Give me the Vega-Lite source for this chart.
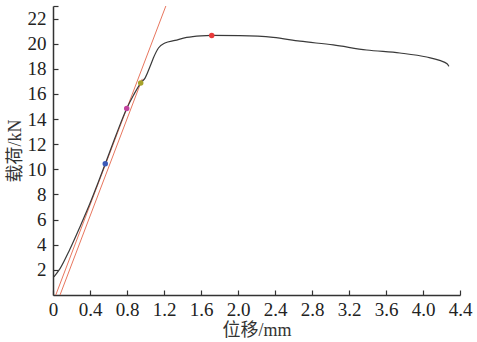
{
  "$schema": "https://vega.github.io/schema/vega-lite/v6.json",
  "width": 407,
  "height": 289,
  "autosize": "none",
  "padding": {"left": 53, "top": 6, "right": 17, "bottom": 47},
  "background": "white",
  "config": {
    "view": {"stroke": null},
    "font": "Liberation Serif, DejaVu Serif, serif",
    "axis": {
      "grid": false,
      "domainColor": "#333333",
      "domainWidth": 1.5,
      "tickColor": "#333333",
      "tickWidth": 1.2,
      "labelFont": "Liberation Serif, DejaVu Serif, serif",
      "labelFontSize": 19,
      "labelColor": "#222222",
      "labelFlush": false,
      "labelOverlap": false,
      "titleFont": "Liberation Serif, Noto Sans CJK SC, serif",
      "titleFontSize": 18,
      "titleFontWeight": "normal",
      "titleColor": "#333333"
    }
  },
  "datasets": {
    "curve": [
      {"x": 0.01, "y": 1.45}, {"x": 0.076, "y": 2.1}, {"x": 0.18, "y": 3.6}, {"x": 0.29, "y": 5.4},
      {"x": 0.40, "y": 7.3}, {"x": 0.48, "y": 8.8}, {"x": 0.565, "y": 10.44}, {"x": 0.68, "y": 12.7},
      {"x": 0.797, "y": 14.85}, {"x": 0.87, "y": 15.9}, {"x": 0.948, "y": 16.87}, {"x": 0.995, "y": 17.26},
      {"x": 1.05, "y": 18.2}, {"x": 1.085, "y": 18.86}, {"x": 1.14, "y": 19.66}, {"x": 1.21, "y": 20.05},
      {"x": 1.32, "y": 20.26}, {"x": 1.445, "y": 20.5}, {"x": 1.6, "y": 20.63}, {"x": 1.716, "y": 20.66},
      {"x": 2.02, "y": 20.64}, {"x": 2.38, "y": 20.5}, {"x": 2.67, "y": 20.2}, {"x": 3.03, "y": 19.9},
      {"x": 3.39, "y": 19.5}, {"x": 3.75, "y": 19.26}, {"x": 4.04, "y": 18.94}, {"x": 4.18, "y": 18.67},
      {"x": 4.26, "y": 18.4}, {"x": 4.28, "y": 18.2}
    ],
    "fits": [
      {"line": "a", "x": 0.03, "y": 0}, {"line": "a", "x": 1.22, "y": 23},
      {"line": "b", "x": 0.076, "y": 0}, {"line": "b", "x": 0.965, "y": 17.2}
    ],
    "dots": [
      {"name": "p1", "x": 0.565, "y": 10.44},
      {"name": "p2", "x": 0.797, "y": 14.85},
      {"name": "p3", "x": 0.948, "y": 16.87},
      {"name": "p4", "x": 1.716, "y": 20.66}
    ]
  },
  "encoding": {
    "x": {
      "field": "x", "type": "quantitative",
      "scale": {"domain": [0, 4.4], "nice": false, "zero": false},
      "axis": {
        "title": "位移/mm",
        "values": [0, 0.4, 0.8, 1.2, 1.6, 2.0, 2.4, 2.8, 3.2, 3.6, 4.0, 4.4],
        "labelExpr": "datum.value == 0 ? '0' : format(datum.value, '.1f')",
        "tickSize": -5,
        "labelPadding": 10,
        "titlePadding": 2
      }
    },
    "y": {
      "field": "y", "type": "quantitative",
      "scale": {"domain": [0, 23], "nice": false},
      "axis": {
        "title": "载荷/kN",
        "values": [2, 4, 6, 8, 10, 12, 14, 16, 18, 20, 22, 23],
        "labelExpr": "datum.value == 23 ? '' : datum.label",
        "tickSize": -5,
        "labelPadding": 12,
        "titlePadding": 3
      }
    }
  },
  "layer": [
    {
      "data": {"name": "fits"},
      "mark": {"type": "line", "color": "#e8765e", "strokeWidth": 1},
      "encoding": {"detail": {"field": "line"}}
    },
    {
      "data": {"name": "curve"},
      "mark": {"type": "line", "color": "#3a3a3a", "strokeWidth": 1.2, "interpolate": "monotone"}
    },
    {
      "data": {"name": "dots"},
      "mark": {"type": "circle", "size": 30, "opacity": 1},
      "encoding": {
        "color": {
          "field": "name", "type": "nominal", "legend": null,
          "scale": {"domain": ["p1", "p2", "p3", "p4"], "range": ["#3c5ab8", "#c2429e", "#a6a22a", "#e83a3a"]}
        }
      }
    }
  ]
}
